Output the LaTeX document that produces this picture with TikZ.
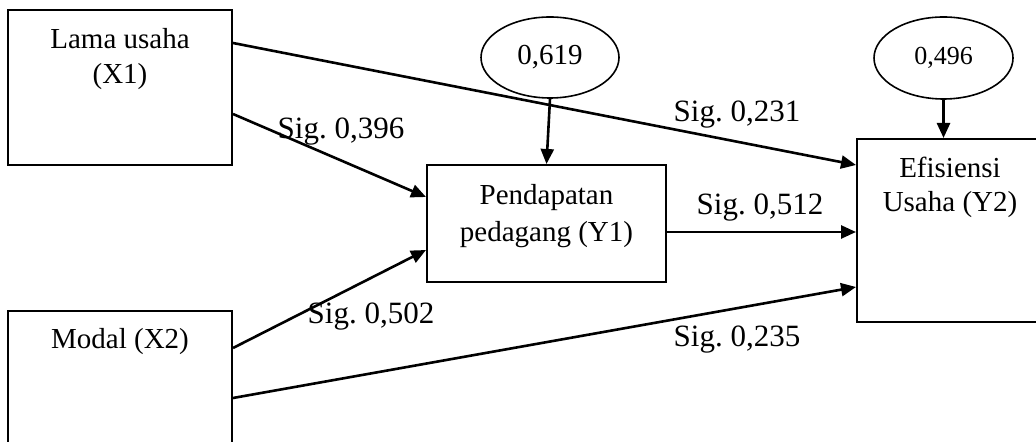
\documentclass[tikz,border=0pt]{standalone}
\usepackage{fontspec}
\setmainfont{Liberation Serif}
\usetikzlibrary{arrows.meta,shapes.geometric,calc}
\frenchspacing

\begin{document}
\begin{tikzpicture}[x=0.5pt,y=-0.5pt,
  box/.style={draw,line width=1pt,inner sep=0pt},
  err/.style={draw,ellipse,line width=0.8pt,inner sep=0pt,font=\fontsize{14.5}{17}\selectfont},
  txt/.style={inner sep=0pt,align=center,font=\fontsize{14.5}{17.5}\selectfont},
  sig/.style={inner sep=0pt,font=\fontsize{15.5}{18}\selectfont},
  arr/.style={line width=1.3pt,-{Triangle[length=7.5pt,width=6.5pt]}}]

\useasboundingbox (0,0) rectangle (1036,442);
\clip (0,0) rectangle (1036,442);

\node[box,minimum width=112pt,minimum height=77.5pt] (x1) at (120,87.5) {};
\node[box,minimum width=112pt,minimum height=77.5pt] (x2) at (120,388.5) {};
\node[box,minimum width=119.5pt,minimum height=58.5pt] (y1) at (546.5,223.5) {};
\node[box,minimum width=93pt,minimum height=91.5pt] (y2) at (950,230.5) {};
\node[err,minimum width=69pt,minimum height=40.5pt] (e1) at (550,57.5) {0,619};
\node[err,minimum width=69.5pt,minimum height=41pt,font=\fontsize{13}{15}\selectfont] (e2) at (943.5,58) {0,496};

\node[txt,anchor=north] (t1) at ($(x1.north)+(0,19)$) {Lama usaha\\(X1)};
\node[txt,anchor=base] (t2) at ($(x2.north)+(0,39)$) {Modal (X2)};
\node[txt,anchor=north,font=\fontsize{14.5}{18.5}\selectfont] (t3) at ($(y1.north)+(0,20)$) {Pendapatan\\pedagang (Y1)};
\node[txt,anchor=north,font=\fontsize{14.5}{17}\selectfont] (t4) at ($(y2.north)+(0,19)$) {Efisiensi\\Usaha (Y2)};

\draw[arr] ($(x1.east)+(0,-44.5)$) -- ($(y2.west)+(0,-65.5)$);
\draw[arr] ($(x1.east)+(0,26.5)$) -- ($(y1.west)+(0,-26.5)$);
\draw[arr] ($(x2.east)+(0,-40.5)$) -- ($(y1.west)+(0,26.5)$);
\draw[arr] ($(x2.east)+(0,9.5)$) -- ($(y2.west)+(0,56.5)$);
\draw[arr] ($(y1.east)+(0,8.5)$) -- ($(y2.west)+(0,1.5)$);
\draw[arr] (e1.south) -- (y1.north);
\draw[arr] (e2.south) -- (e2.south |- y2.north);

\foreach \n/\x/\y/\t in {s1/341/132/{0,396},s2/371/317/{0,502},s3/737/115/{0,231},s4/760/208/{0,512},s5/737/340/{0,235}}
  \node[sig] (\n) at (\x,\y) {Sig. \t};

\end{tikzpicture}
\end{document}
